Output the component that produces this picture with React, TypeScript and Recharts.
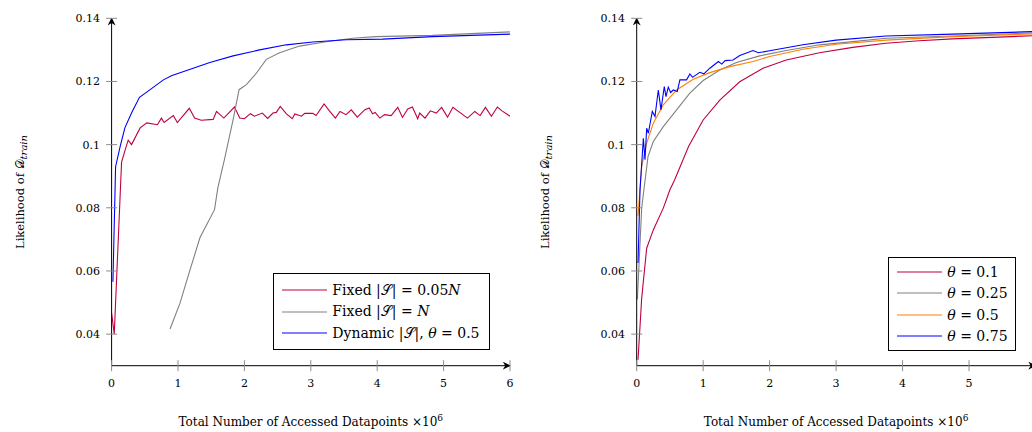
import type { ReactNode } from "react"
import { LineChart, Line, XAxis, YAxis, Legend, Label } from "recharts"

const FONT = "'DejaVu Serif', serif"

const leftXTicks = [0, 1, 2, 3, 4, 5, 6]
const rightXTicks = [0, 1, 2, 3, 4, 5]
const yTicks = [0.04, 0.06, 0.08, 0.1, 0.12, 0.14]

// left panel: [datapoints x10^6, likelihood]
const fixedSmall: [number, number][] = [
  [0.0, 0.0467], [0.04, 0.04], [0.15, 0.0945], [0.2, 0.098], [0.25, 0.1014], [0.3, 0.1],
  [0.43, 0.1053], [0.53, 0.1069], [0.69, 0.1063], [0.75, 0.1084], [0.79, 0.107], [0.93, 0.1092],
  [0.99, 0.107], [1.17, 0.1115], [1.25, 0.1084], [1.35, 0.1077], [1.53, 0.108], [1.58, 0.1105],
  [1.69, 0.1084], [1.85, 0.1119], [1.93, 0.1084], [2.0, 0.1082], [2.09, 0.1098], [2.15, 0.109],
  [2.27, 0.11], [2.35, 0.1083], [2.43, 0.11], [2.48, 0.1102], [2.54, 0.1121], [2.63, 0.1098],
  [2.72, 0.1082], [2.76, 0.1097], [2.86, 0.109], [2.91, 0.1099], [3.03, 0.1099], [3.08, 0.1092],
  [3.2, 0.1129], [3.28, 0.1107], [3.37, 0.1084], [3.44, 0.1105], [3.53, 0.1095], [3.61, 0.111],
  [3.7, 0.1087], [3.81, 0.111], [3.88, 0.1116], [3.93, 0.1098], [3.97, 0.1102], [4.04, 0.1084],
  [4.11, 0.1095], [4.21, 0.1092], [4.31, 0.1118], [4.38, 0.1086], [4.46, 0.1113], [4.53, 0.1119],
  [4.61, 0.1082], [4.64, 0.11], [4.72, 0.1084], [4.8, 0.1107], [4.89, 0.11], [4.97, 0.1118],
  [5.06, 0.1087], [5.14, 0.1118], [5.36, 0.1084], [5.47, 0.1105], [5.55, 0.1092], [5.63, 0.1118],
  [5.72, 0.109], [5.81, 0.1119], [5.88, 0.1107], [6.0, 0.109],
]
const fixedFull: [number, number][] = [
  [0.88, 0.0416], [1.03, 0.0498], [1.15, 0.0582], [1.33, 0.0705], [1.55, 0.0794], [1.6, 0.0863],
  [1.7, 0.0953], [1.83, 0.1079], [1.92, 0.1174], [2.03, 0.119], [2.18, 0.1226], [2.33, 0.127],
  [2.53, 0.1291], [2.83, 0.1312], [3.23, 0.1326], [3.63, 0.1337], [3.98, 0.1342], [4.83, 0.1346],
  [6.0, 0.1357],
]
const dynamicHalf: [number, number][] = [
  [0.02, 0.0566], [0.06, 0.093], [0.13, 0.0995], [0.2, 0.1053], [0.3, 0.11], [0.42, 0.115],
  [0.58, 0.1174], [0.78, 0.1205], [0.9, 0.1218], [1.13, 0.1235], [1.48, 0.126], [1.83, 0.1281],
  [2.23, 0.13], [2.63, 0.1316], [3.03, 0.1325], [3.53, 0.1332], [4.08, 0.1334], [4.83, 0.1342],
  [6.0, 0.135],
]

// right panel: different theta
const theta01: [number, number][] = [
  [0.02, 0.0319], [0.075, 0.0514], [0.15, 0.0672], [0.25, 0.073], [0.4, 0.0799], [0.5, 0.0857],
  [0.57, 0.0888], [0.78, 0.0994], [1.0, 0.1078], [1.25, 0.1141], [1.55, 0.1199], [1.9, 0.1242],
  [2.25, 0.1268], [2.75, 0.1291], [3.25, 0.1308], [3.75, 0.1321], [4.25, 0.1329], [4.75, 0.1335],
  [6.0, 0.1345],
]
const theta025: [number, number][] = [
  [0.01, 0.051], [0.075, 0.0799], [0.12, 0.0877], [0.17, 0.0962], [0.25, 0.101], [0.4, 0.1057],
  [0.6, 0.111], [0.8, 0.1163], [1.0, 0.1203], [1.25, 0.1236], [1.5, 0.126], [1.85, 0.1281],
  [2.25, 0.1298], [2.75, 0.1316], [3.25, 0.1326], [3.75, 0.1337], [4.75, 0.1344], [6.0, 0.1354],
]
const theta05: [number, number][] = [
  [0.02, 0.0775], [0.075, 0.0931], [0.15, 0.1005], [0.25, 0.1068], [0.4, 0.1126], [0.6, 0.1173],
  [0.85, 0.1207], [1.1, 0.1228], [1.4, 0.1247], [1.75, 0.1263], [2.0, 0.1279], [2.5, 0.1302],
  [3.0, 0.1318], [3.75, 0.1331], [4.75, 0.1342], [6.0, 0.1351],
]
const theta075: [number, number][] = [
  [0.02, 0.0625], [0.05, 0.0857], [0.1, 0.102], [0.125, 0.0952], [0.15, 0.1052], [0.175, 0.1036],
  [0.235, 0.1105], [0.275, 0.1089], [0.325, 0.1173], [0.365, 0.111], [0.415, 0.1184], [0.44, 0.1152],
  [0.475, 0.1182], [0.51, 0.1165], [0.55, 0.1173], [0.61, 0.1168], [0.65, 0.1205], [0.75, 0.1205],
  [0.8, 0.1224], [0.84, 0.1213], [0.95, 0.1229], [1.01, 0.1224], [1.1, 0.1242], [1.23, 0.1263],
  [1.28, 0.1255], [1.33, 0.1266], [1.45, 0.1268], [1.55, 0.1282], [1.75, 0.1298], [1.83, 0.1291],
  [2.0, 0.1297], [2.5, 0.1316], [3.0, 0.1331], [3.75, 0.1344], [4.75, 0.135], [6.0, 0.1358],
]

const rows = (pts: [number, number][]) => pts.map(([x, y]) => ({ x, y }))

const RED = "#bf0040"
const GRAY = "#808080"
const BLUE = "#0000ff"
const ORANGE = "#ff8000"

const S = <tspan>{"\u{1D4AE}"}</tspan>

const leftLabels: Record<string, ReactNode> = {
  a: <>Fixed |{S}| = 0.05<i>N</i></>,
  b: <>Fixed |{S}| = <i>N</i></>,
  c: <>Dynamic |{S}|, <i>θ</i> = 0.5</>,
}
const rightLabels: Record<string, ReactNode> = {
  a: <><i>θ</i> = 0.1</>,
  b: <><i>θ</i> = 0.25</>,
  c: <><i>θ</i> = 0.5</>,
  d: <><i>θ</i> = 0.75</>,
}

function LegendBox({ payload, labels, width, pad }: any) {
  const items = [...(payload || [])].sort((p: any, q: any) => String(p.value).localeCompare(String(q.value)))
  return (
    <div style={{ width, boxSizing: "border-box", border: "1px solid #000", background: "#fff", padding: `${pad}px 0`, fontFamily: FONT, fontSize: 14, color: "#000" }}>
      {items.map((p: any) => (
        <div key={p.value} style={{ display: "flex", alignItems: "center", height: 21.5, whiteSpace: "nowrap" }}>
          <svg width={58} height={4} style={{ flex: "none" }}>
            <line x1={8} x2={53} y1={2} y2={2} stroke={p.color} strokeWidth={1.2} />
          </svg>
          <span>{labels[p.value]}</span>
        </div>
      ))}
    </div>
  )
}

function YTick({ x, y, payload }: any) {
  const ax = x + 11.6
  return (
    <g>
      <line x1={ax - 5.5} x2={ax + 5.5} y1={y} y2={y} stroke="#8c8c8c" />
      <text x={x} y={y} dy={4} textAnchor="end" fontFamily={FONT} fontSize={11} fill="#000">
        {String(payload.value)}
      </text>
    </g>
  )
}

function XTick({ x, y, payload }: any) {
  const ay = y - 8
  return (
    <g>
      <line x1={x} x2={x} y1={ay - 5.5} y2={ay + 5.5} stroke="#8c8c8c" />
      <text x={x} y={ay + 21.5} textAnchor="middle" fontFamily={FONT} fontSize={11} fill="#000">
        {String(payload.value)}
      </text>
    </g>
  )
}

const yTitle = (dx: number) => ({ viewBox }: any) => {
  const cx = viewBox.x + dx
  const cy = viewBox.y + viewBox.height / 2
  return (
    <text x={cx} y={cy} transform={`rotate(-90 ${cx} ${cy})`} textAnchor="middle" fontFamily={FONT} fontSize={11.5} fill="#000">
      {"Likelihood of "}
      <tspan>{"\u{1D49F}"}</tspan>
      <tspan fontStyle="italic" fontSize={10} dy={3}>train</tspan>
    </text>
  )
}

const xTitle = ({ viewBox }: any) => {
  const cx = viewBox.x + viewBox.width / 2
  return (
    <text x={cx} y={viewBox.y + 60} textAnchor="middle" fontFamily={FONT} fontSize={12} fill="#000">
      {"Total Number of Accessed Datapoints ×10"}
      <tspan fontSize={9} dy={-5}>6</tspan>
    </text>
  )
}

const axisStroke = { stroke: "#000", strokeWidth: 1 }

function Panel({ xTicks, yAxisWidth, rightMargin, yTitleX, legendPos, legendWidth, legendPad, labels, series }: any) {
  return (
    <LineChart width={520} height={432} margin={{ top: 18.3, right: rightMargin, left: 0, bottom: 0 }}>
      <XAxis
        type="number"
        dataKey="x"
        domain={[0, 6]}
        ticks={xTicks}
        allowDataOverflow
        height={66.3}
        tickSize={0}
        tickMargin={8}
        tick={<XTick />}
        axisLine={{ ...axisStroke, markerEnd: "url(#arrowhead)" }}
      >
        <Label content={xTitle} />
      </XAxis>
      <YAxis
        type="number"
        dataKey="y"
        domain={[0.03, 0.14]}
        ticks={yTicks}
        allowDataOverflow
        width={yAxisWidth}
        tickSize={0}
        tickMargin={11.6}
        tick={<YTick />}
        axisLine={{ ...axisStroke, markerStart: "url(#arrowhead)" }}
      >
        <Label content={yTitle(yTitleX)} />
      </YAxis>
      {series.map((s: any) => (
        <Line
          key={s.id}
          data={rows(s.pts)}
          dataKey="y"
          name={s.id}
          type="linear"
          stroke={s.color}
          strokeWidth={1.1}
          dot={false}
          activeDot={false}
          isAnimationActive={false}
        />
      ))}
      <Legend
        layout="horizontal"
        verticalAlign="middle"
        align="center"
        wrapperStyle={{ left: legendPos[0], top: legendPos[1], width: legendWidth, height: "auto" }}
        content={(props: any) => <LegendBox payload={props.payload} labels={labels} width={legendWidth} pad={legendPad} />}
      />
    </LineChart>
  )
}

export default function App() {
  return (
    <div style={{ position: "absolute", left: 0, top: 0, width: 1032, height: 432, overflow: "hidden", background: "#fff" }}>
      <svg width={0} height={0} style={{ position: "absolute" }}>
        <defs>
          <marker id="arrowhead" viewBox="0 0 10 10" refX={9} refY={5} markerWidth={8} markerHeight={8} markerUnits="userSpaceOnUse" orient="auto-start-reverse">
            <path d="M0,0 L10,5 L0,10 L3,5 z" fill="#000" />
          </marker>
        </defs>
      </svg>
      <div style={{ position: "absolute", left: 0, top: 0 }}>
        <Panel
          xTicks={leftXTicks}
          yAxisWidth={111.6}
          rightMargin={10}
          yTitleX={24}
          legendPos={[273.3, 273.3]}
          legendWidth={216.7}
          legendPad={5}
          labels={leftLabels}
          series={[
            { id: "a", pts: fixedSmall, color: RED },
            { id: "b", pts: fixedFull, color: GRAY },
            { id: "c", pts: dynamicHalf, color: BLUE },
          ]}
        />
      </div>
      <div style={{ position: "absolute", left: 520, top: 0 }}>
        <Panel
          xTicks={rightXTicks}
          yAxisWidth={116.7}
          rightMargin={4.5}
          yTitleX={29}
          legendPos={[368.3, 256.7]}
          legendWidth={127.4}
          legendPad={3.4}
          labels={rightLabels}
          series={[
            { id: "a", pts: theta01, color: RED },
            { id: "b", pts: theta025, color: GRAY },
            { id: "c", pts: theta05, color: ORANGE },
            { id: "d", pts: theta075, color: BLUE },
          ]}
        />
      </div>
    </div>
  )
}
